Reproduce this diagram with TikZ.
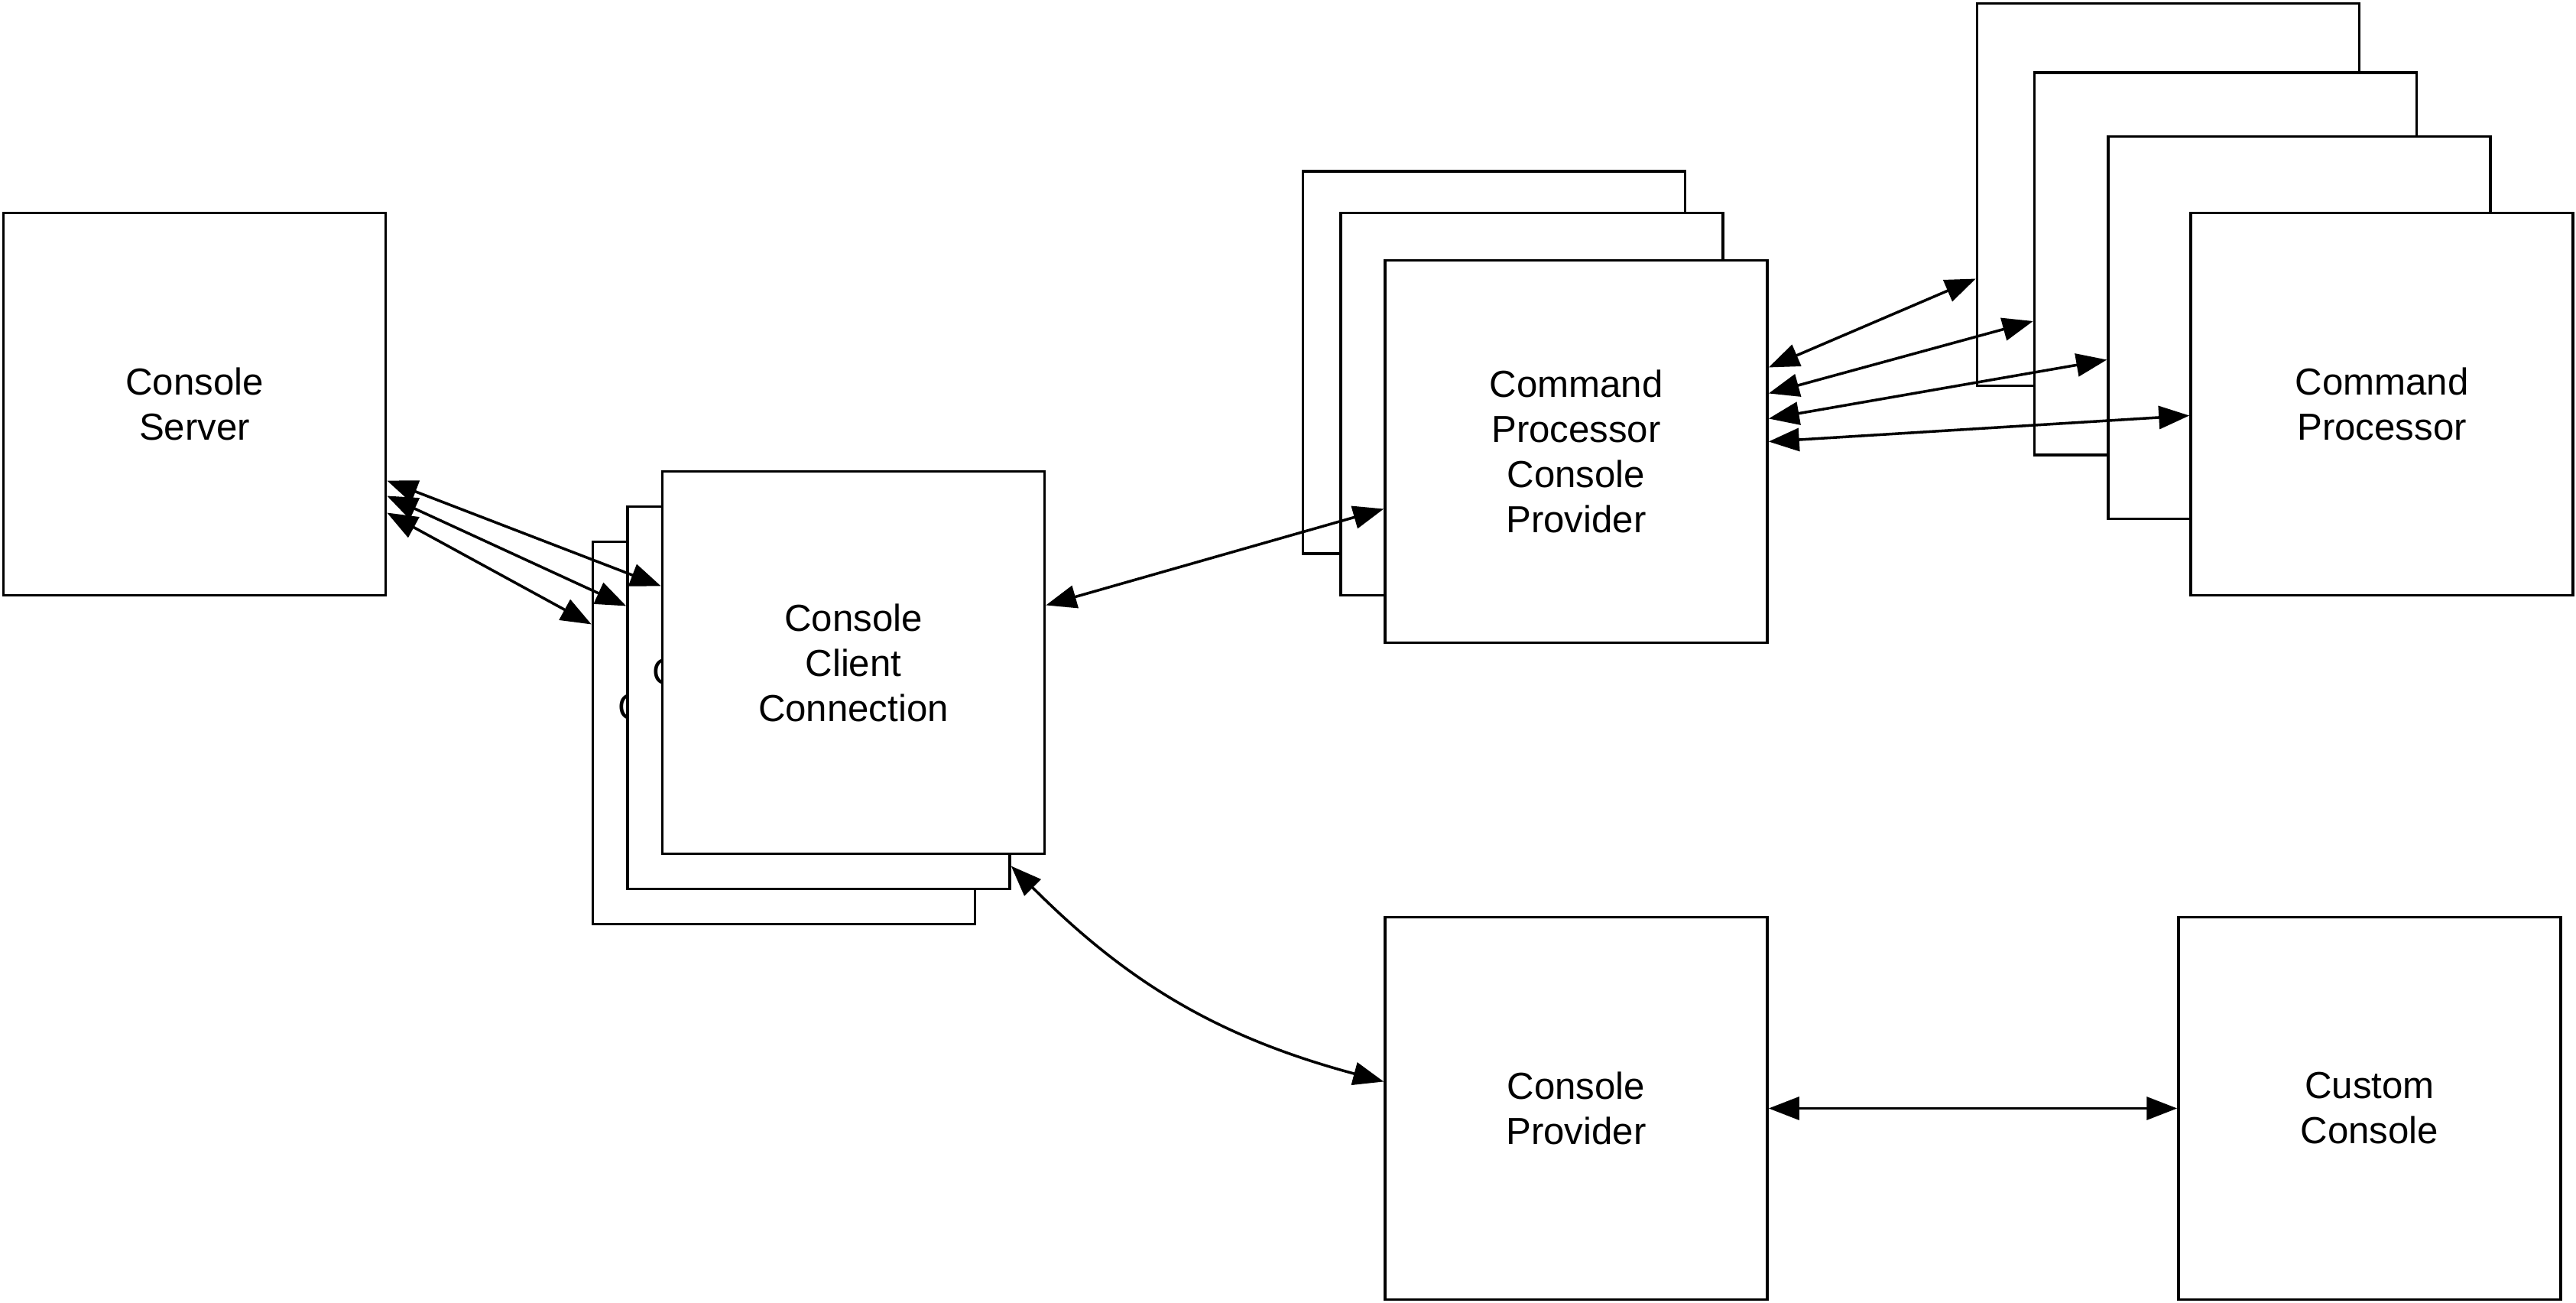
\documentclass[tikz,border=0pt]{standalone}
\usepackage{fontspec}
\setmainfont{Liberation Sans}
\usetikzlibrary{arrows.meta, positioning}

\tikzset{
  box/.style={draw, line width=1pt, fill=white, minimum width=5cm, minimum height=5cm,
    inner sep=0pt, align=center, font=\fontsize{14}{16.8}\selectfont},
  peek/.style={anchor=base west, inner sep=0pt, font=\fontsize{14}{16.8}\selectfont},
  link/.style={{Triangle[length=4mm,width=3mm]}-{Triangle[length=4mm,width=3mm]}, line width=1pt},
}

\begin{document}
\begin{tikzpicture}
  \useasboundingbox (0,0) rectangle (33.7,-17.04);
  % server
  \node[box] (server) at (2.545,-5.285) {Console\\Server};
  % client connections
  \node[box] (ccc3) at (10.255,-9.585) {};
  \node[peek] (ccc3lbl) at ([shift={(-2.18,0.17)}]ccc3.center) {C};
  \node[box] (ccc2) at (10.71,-9.125) {};
  \node[peek] (ccc2lbl) at ([shift={(-2.18,0.17)}]ccc2.center) {C};
  \node[box] (ccc1) at (11.165,-8.665) {Console\\Client\\Connection};
  % command processor console providers
  \node[box] (cpcp3) at (19.545,-4.74) {};
  \node[box] (cpcp2) at (20.04,-5.285) {};
  \node[box] (cpcp1) at (20.62,-5.905) {Command\\Processor\\Console\\Provider};
  % command processors
  \node[box] (cp4) at (28.365,-2.545) {};
  \node[box] (cp3) at (29.115,-3.45) {};
  \node[box] (cp2) at (30.08,-4.285) {};
  \node[box] (cp1) at (31.16,-5.285) {Command\\Processor};
  % bottom row
  \node[box] (provider) at (20.62,-14.495) {Console\\Provider};
  \node[box] (custom) at (31.0,-14.495) {Custom\\Console};

  % server <-> connections
  \draw[link] ([yshift=-1.0cm]server.east) -- ([yshift=1.0cm]ccc1.west);
  \draw[link] ([yshift=-1.2cm]server.east) -- ([yshift=1.2cm]ccc2.west);
  \draw[link] ([yshift=-1.42cm]server.east) -- ([yshift=1.42cm]ccc3.west);
  % connection <-> providers
  \draw[link] ([yshift=0.75cm]ccc1.east) -- ([yshift=-0.75cm]cpcp1.west);
  \draw[link] ([yshift=-2.2cm]ccc2.east) to[bend right=15] ([yshift=0.35cm]provider.west);
  % provider <-> processors
  \draw[link] ([yshift=1.1cm]cpcp1.east) -- ([yshift=-1.1cm]cp4.west);
  \draw[link] ([yshift=0.76cm]cpcp1.east) -- ([yshift=-0.75cm]cp3.west);
  \draw[link] ([yshift=0.43cm]cpcp1.east) -- ([yshift=-0.42cm]cp2.west);
  \draw[link] ([yshift=0.13cm]cpcp1.east) -- ([yshift=-0.15cm]cp1.west);
  % provider <-> custom
  \draw[link] (provider.east) -- (custom.west);
\end{tikzpicture}
\end{document}
